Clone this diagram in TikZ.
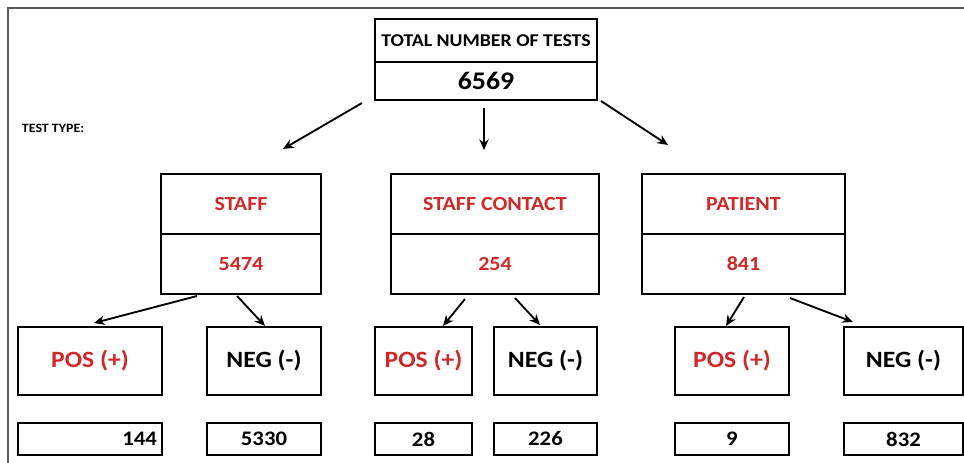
\documentclass[tikz,border=0pt]{standalone}
\usepackage{fontspec}
\setmainfont{Carlito}[FakeStretch=1.1]
\usepackage{tikz}
\usepackage{xcolor}
\usetikzlibrary{arrows.meta, positioning, calc}
\definecolor{testred}{RGB}{208,40,40}
\definecolor{framegray}{RGB}{90,90,90}

\begin{document}
\begin{tikzpicture}[
  x=0.75pt, y=-0.75pt,
  box/.style={draw, line width=1.4pt, inner sep=0pt, outer sep=0pt, align=center},
  head/.style={box, minimum height=45pt, font=\fontsize{15}{18}\selectfont\bfseries, text=testred},
  result/.style={box, minimum height=51pt, font=\fontsize{17.5}{20}\selectfont\bfseries},
  count/.style={box, line width=1.1pt, minimum height=24pt, font=\fontsize{15.5}{18}\selectfont\bfseries},
  >={Stealth[length=8pt, width=7pt]}, line width=1.4pt, node distance=21pt
]
\useasboundingbox (0,0) rectangle (964,463);
\draw[framegray, line width=1.5pt] (8,463) -- (8,8) -- (964,8);

\node[box, minimum width=166.5pt, minimum height=32.25pt, font=\fontsize{13.5}{16}\selectfont\bfseries] (total) at (486,40.5) {TOTAL NUMBER OF TESTS};
\node[box, below=0pt of total, minimum width=166.5pt, minimum height=28.5pt, font=\fontsize{19}{22}\selectfont\bfseries] (totaln) {6569};

\node[font=\fontsize{9.5}{11}\selectfont\bfseries, anchor=west, inner sep=0pt] (type) at (21,128) {TEST TYPE:};

% test types
\node[head, minimum width=120pt] (staff) at (241,204) {STAFF};
\node[head, minimum width=120pt, below=0pt of staff] (staffn) {5474};
\node[head, minimum width=156pt] (contact) at (495,204) {STAFF CONTACT};
\node[head, minimum width=156pt, below=0pt of contact] (contactn) {254};
\node[head, minimum width=152.25pt] (patient) at (743.5,204) {PATIENT};
\node[head, minimum width=152.25pt, below=0pt of patient] (patientn) {841};

% results
\node[result, minimum width=108pt, text=testred] (pos1) at (90,361) {POS (+)};
\node[result, minimum width=85.5pt] (neg1) at (264,361) {NEG (-)};
\node[result, minimum width=72.75pt, text=testred] (pos2) at (423.5,361) {POS (+)};
\node[result, minimum width=77.25pt] (neg2) at (545.5,361) {NEG (-)};
\node[result, minimum width=85.5pt, text=testred] (pos3) at (732,361) {POS (+)};
\node[result, minimum width=89.25pt] (neg3) at (903.5,361) {NEG (-)};

% counts
\node[count, minimum width=108pt, text width=100.5pt, align=right, below=of pos1] (pos1n) {144};
\node[count, minimum width=85.5pt, below=of neg1] (neg1n) {5330};
\node[count, minimum width=72.75pt, below=of pos2] (pos2n) {28};
\node[count, minimum width=77.25pt, below=of neg2] (neg2n) {226};
\node[count, minimum width=85.5pt, below=of pos3] (pos3n) {9};
\node[count, minimum width=89.25pt, below=of neg3] (neg3n) {832};

\draw[->] ($(totaln.south west)+(-13,3)$) -- ($(staff.north)+(42,-25)$);
\draw[->] ($(totaln.south)+(-2,8)$) -- ($(contact.north)+(-11,-24)$);
\draw[->] ($(totaln.south east)+(4,1)$) -- ($(patient.north)+(-75.5,-29)$);

\draw[->] ($(staffn.south)+(-44,2)$) -- ($(pos1.north)+(4,-4)$);
\draw[->] ($(staffn.south)+(-4,2)$) -- ($(neg1.north)+(1,-1)$);
\draw[->] ($(contactn.south)+(-30,5)$) -- ($(pos2.north)+(19.5,-1)$);
\draw[->] ($(contactn.south)+(20,4)$) -- ($(neg2.north)+(-5.5,-2)$);
\draw[->] ($(patientn.south)+(0.5,3)$) -- ($(pos3.north)+(-6,-1)$);
\draw[->] ($(patientn.south)+(46.5,4)$) -- ($(neg3.north)+(-50.5,-5)$);
\end{tikzpicture}
\end{document}
